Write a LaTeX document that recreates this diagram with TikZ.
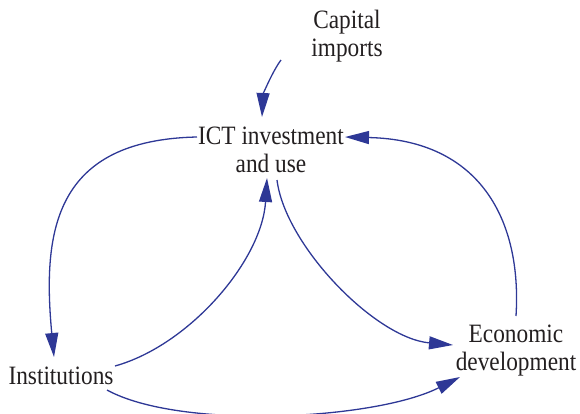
\documentclass[tikz,border=0pt]{standalone}
\usepackage{fontspec}
\setmainfont{Liberation Serif}[FakeStretch=0.88]
\usetikzlibrary{arrows.meta,calc}
\definecolor{linkblue}{RGB}{46,56,150}
\definecolor{txt}{RGB}{35,31,32}
\begin{document}
\begin{tikzpicture}[x=1pt,y=-1pt,
  var/.style={inner sep=0pt,align=center,text=txt,font=\fontsize{26.5}{28}\selectfont},
  link/.style={draw=linkblue,line width=1.3pt,-{Triangle[length=24pt,width=13pt]}}]
\useasboundingbox (0,0) rectangle (580,413);
\node[var] (cap) at (347,36) {Capital\\imports};
\node[var] (ict) at (271,150) {ICT investment\\and use};
\node[var] (inst) at (61,376) {Institutions};
\node[var] (eco) at (516,351) {Economic\\development};
% Capital imports -> ICT
\draw[link] ($(cap.center)+(-66,24)$) .. controls (272,72) and (263,95) .. ($(ict.center)+(-9,-33)$);
% ICT -> Institutions
\draw[link] ($(ict.center)+(-74,-13)$) .. controls (55,140) and (42,230) .. ($(inst.center)+(-7,-19)$);
% Institutions -> ICT
\draw[link] ($(inst.center)+(54,-10)$) .. controls (190,345) and (262,260) .. ($(ict.center)+(-4,28)$);
% ICT -> Economic development
\draw[link] ($(ict.center)+(6,30)$) .. controls (285,245) and (375,338) .. ($(eco.center)+(-63,-6)$);
% Institutions -> Economic development
\draw[link] ($(inst.center)+(46,14)$) .. controls (180,430) and (375,420) .. ($(eco.center)+(-56,26)$);
% Economic development -> ICT
\draw[link] ($(eco.center)+(0,-35)$) .. controls (522,220) and (480,140) .. ($(ict.center)+(74,-13)$);
\end{tikzpicture}
\end{document}
